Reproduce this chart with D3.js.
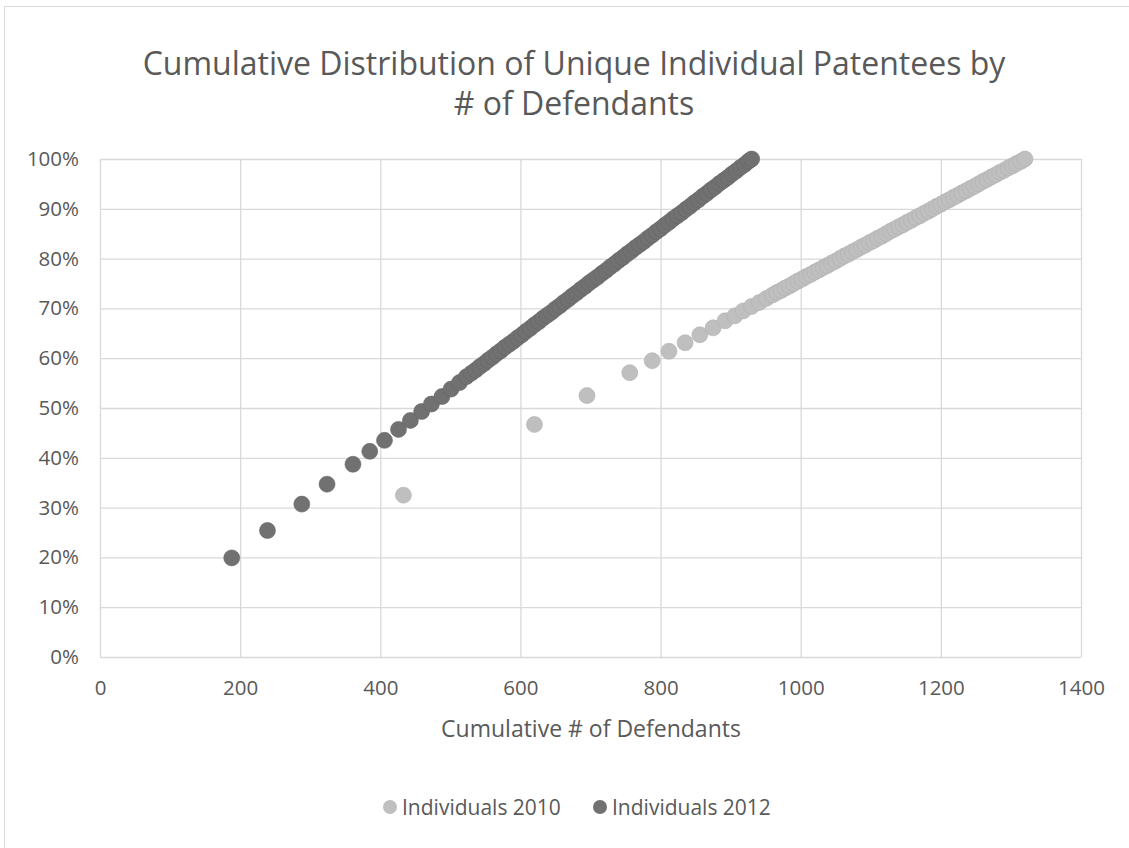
<!DOCTYPE html>
<html><head><meta charset="utf-8">
<script src="https://cdn.jsdelivr.net/npm/d3@7"></script>
<style>html,body{margin:0;padding:0;background:#fff;}svg{display:block;}</style>
</head><body>
<svg id="c" width="1129" height="848"></svg>
<script>
const titleLines = ["Cumulative Distribution of Unique Individual Patentees by", "# of Defendants"];
const xAxisTitle = "Cumulative # of Defendants";
const seriesNames = ["Individuals 2010", "Individuals 2012"];
const seriesColors = ["#bfbfbf", "#717171"];
const xTicks = [0, 200, 400, 600, 800, 1000, 1200, 1400];
const yTicks = [0, 0.1, 0.2, 0.3, 0.4, 0.5, 0.6, 0.7, 0.8, 0.9, 1.0];

// Individuals 2010: cumulative defendants (x) and cumulative share (y, %)
const x2010 = [433, 620, 695, 756, 788, 812, 835, 856, 875, 892, 906, 918, 930, 941, 951,
  960, 966, 972, 978, 984, 990, 996, 1002, 1008, 1014, 1020, 1026, 1032, 1038, 1044, 1050,
  1056, 1062, 1068, 1074, 1080, 1086, 1092, 1098, 1104, 1110, 1116, 1122, 1128, 1134, 1140,
  1146, 1152, 1158, 1164, 1170, 1176, 1182, 1188, 1194, 1200, 1206, 1212, 1218, 1224, 1230,
  1236, 1242, 1248, 1254, 1260, 1266, 1272, 1278, 1284, 1290, 1296, 1302, 1308, 1314, 1320];
const y2010 = [32.5, 46.7, 52.5, 57.1, 59.5, 61.4, 63.1, 64.7, 66.1, 67.5, 68.5, 69.5, 70.4, 71.2, 72.0,
  72.7, 73.2, 73.6, 74.1, 74.5, 75.0, 75.5, 75.9, 76.4, 76.8, 77.3, 77.7, 78.2, 78.6, 79.1, 79.5,
  80.0, 80.5, 80.9, 81.4, 81.8, 82.3, 82.7, 83.2, 83.6, 84.1, 84.5, 85.0, 85.5, 85.9, 86.4,
  86.8, 87.3, 87.7, 88.2, 88.6, 89.1, 89.5, 90.0, 90.5, 90.9, 91.4, 91.8, 92.3, 92.7, 93.2,
  93.6, 94.1, 94.5, 95.0, 95.5, 95.9, 96.4, 96.8, 97.3, 97.7, 98.2, 98.6, 99.1, 99.5, 100];

// Individuals 2012
const x2012 = [188, 239, 288, 324, 361, 385, 406, 426, 443, 459, 473, 488, 501, 513, 523,
  530, 536, 542, 548, 554, 560, 566, 572, 578, 584, 590, 596, 602, 608, 614, 620, 626, 632,
  638, 644, 650, 656, 662, 668, 674, 680, 686, 692, 698, 704, 710, 716, 722, 728, 734, 740,
  746, 752, 758, 764, 770, 776, 782, 788, 794, 800, 806, 812, 818, 824, 830, 836, 842, 848,
  854, 860, 866, 872, 878, 884, 890, 896, 902, 908, 914, 920, 926, 930];
const y2012 = [19.9, 25.4, 30.7, 34.7, 38.7, 41.3, 43.5, 45.7, 47.5, 49.3, 50.8, 52.3, 53.8, 55.1, 56.3,
  57.0, 57.6, 58.3, 58.9, 59.6, 60.2, 60.9, 61.5, 62.2, 62.8, 63.4, 64.1, 64.7, 65.4, 66.0, 66.7, 67.3, 68.0,
  68.6, 69.2, 69.9, 70.5, 71.2, 71.8, 72.5, 73.1, 73.8, 74.4, 75.1, 75.7, 76.3, 77.0, 77.6, 78.3, 78.9, 79.6,
  80.2, 80.9, 81.5, 82.2, 82.8, 83.4, 84.1, 84.7, 85.4, 86.0, 86.7, 87.3, 88.0, 88.6, 89.2, 89.9, 90.5, 91.2,
  91.8, 92.5, 93.1, 93.8, 94.4, 95.1, 95.7, 96.3, 97.0, 97.6, 98.3, 98.9, 99.6, 100];

const svg = d3.select("#c");
const W = 1129, H = 848;
const plot = {left: 100, right: 1081, top: 159, bottom: 657};
const font = "'Open Sans', sans-serif";
const textColor = "#595959";
const gridColor = "#d9d9d9";

svg.append("rect").attr("x", 4.5).attr("y", 6.5).attr("width", W + 10).attr("height", H + 10)
  .attr("fill", "#fff").attr("stroke", gridColor).attr("stroke-width", 1);

const x = d3.scaleLinear().domain([0, 1400]).range([plot.left, plot.right]);
const y = d3.scaleLinear().domain([0, 1]).range([plot.bottom, plot.top]);

// gridlines
const gy = svg.append("g").attr("transform", `translate(${plot.left},0)`)
  .call(d3.axisLeft(y).tickValues(yTicks).tickSize(-(plot.right - plot.left)).tickFormat(""));
gy.select(".domain").remove();
gy.selectAll(".tick line").attr("stroke", gridColor).attr("stroke-width", 1.3);

const gx = svg.append("g").attr("transform", `translate(0,${plot.bottom})`)
  .call(d3.axisBottom(x).tickValues(xTicks).tickSize(-(plot.bottom - plot.top)).tickFormat(""));
gx.select(".domain").remove();
gx.selectAll(".tick line").attr("stroke", gridColor).attr("stroke-width", 1.3);

// tick labels
const yl = svg.append("g").attr("transform", `translate(${plot.left},0)`)
  .call(d3.axisLeft(y).tickValues(yTicks).tickSize(0).tickPadding(21).tickFormat(d3.format(".0%")));
yl.select(".domain").remove();
yl.selectAll("text").attr("font-family", font).attr("font-size", 20.5).attr("fill", textColor);

const xl = svg.append("g").attr("transform", `translate(0,${plot.bottom})`)
  .call(d3.axisBottom(x).tickValues(xTicks).tickSize(0).tickPadding(23).tickFormat(d3.format("d")));
xl.select(".domain").remove();
xl.selectAll("text").attr("font-family", font).attr("font-size", 20.5).attr("fill", textColor);

// title
svg.append("text").attr("x", 574).attr("y", 75).attr("text-anchor", "middle")
  .attr("font-family", font).attr("font-size", 32).attr("fill", textColor)
  .selectAll("tspan").data(titleLines).join("tspan")
  .attr("x", 574).attr("dy", (d, i) => i === 0 ? 0 : 40).text(d => d);

// axis title
svg.append("text").attr("x", 591).attr("y", 737).attr("text-anchor", "middle")
  .attr("font-family", font).attr("font-size", 23).attr("fill", textColor).text(xAxisTitle);

// series
const series = [
  {name: seriesNames[0], color: seriesColors[0], stroke: "#b0b0b0", xs: x2010, ys: y2010},
  {name: seriesNames[1], color: seriesColors[1], stroke: "#666666", xs: x2012, ys: y2012}
];
series.forEach(s => {
  const pts = s.xs.map((v, i) => ({x: v, y: s.ys[i] / 100}));
  svg.append("g").selectAll("circle").data(pts).join("circle")
    .attr("cx", d => x(d.x)).attr("cy", d => y(d.y)).attr("r", 8)
    .attr("fill", s.color).attr("stroke", s.stroke).attr("stroke-width", 0.6);
});

// legend
const leg = svg.append("g");
const legItems = [{x: 390, i: 0}, {x: 600, i: 1}];
legItems.forEach(li => {
  leg.append("circle").attr("cx", li.x).attr("cy", 807).attr("r", 7).attr("fill", seriesColors[li.i]);
  leg.append("text").attr("x", li.x + 12).attr("y", 815).attr("font-family", font)
    .attr("font-size", 21).attr("fill", textColor).text(seriesNames[li.i]);
});
</script>
</body></html>
